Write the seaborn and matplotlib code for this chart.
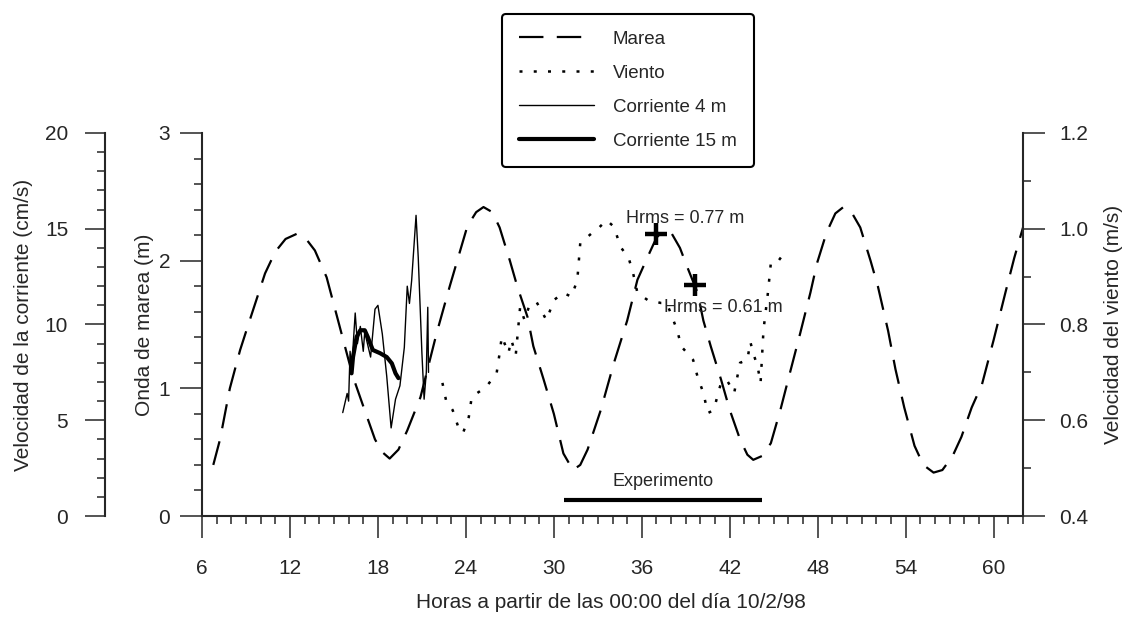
import numpy as np
import matplotlib
matplotlib.use('Agg')
from matplotlib import pyplot as plt
from matplotlib.ticker import MultipleLocator, FormatStrFormatter
import seaborn as sns

# Marea (m), horas desde 00:00 del 10/2/98
tide_t = [6.77, 7.23, 7.9, 8.6, 9.16, 10.3, 11.0, 11.7, 12.46, 13.1, 13.7, 14.5,
          15.4, 16.3, 17.0, 17.8, 18.3, 18.8, 19.4, 20.0, 20.9, 22.0, 22.9, 24.1,
          24.7, 25.2, 25.8, 26.3, 27.0, 27.5, 28.2, 28.6, 29.3, 30.0, 30.65, 31.3,
          31.8, 32.3, 33.2, 34.1, 35.0, 35.7, 36.4, 37.0, 37.5, 38.0, 38.6, 39.1,
          39.8, 40.2, 40.7, 41.4, 42.0, 42.7, 43.2, 43.6, 44.2, 44.8, 45.45, 46.1,
          46.8, 47.5, 47.95, 48.6, 49.2, 49.75, 50.3, 50.9, 51.6, 52.1, 52.8, 53.3,
          53.9, 54.6, 55.2, 55.9, 56.5, 57.2, 57.8, 58.5, 59.2, 60.0, 60.8, 61.4, 62.0]
tide_m = [0.40, 0.60, 1.00, 1.30, 1.50, 1.90, 2.07, 2.17, 2.21, 2.17, 2.08, 1.87,
          1.48, 1.09, 0.86, 0.60, 0.50, 0.45, 0.52, 0.67, 0.93, 1.43, 1.80, 2.27,
          2.38, 2.42, 2.38, 2.26, 2.00, 1.80, 1.56, 1.33, 1.07, 0.80, 0.49, 0.36,
          0.40, 0.52, 0.83, 1.20, 1.53, 1.85, 2.03, 2.18, 2.24, 2.22, 2.10, 1.95,
          1.75, 1.53, 1.33, 1.07, 0.83, 0.60, 0.48, 0.44, 0.47, 0.57, 0.83, 1.12,
          1.43, 1.75, 1.98, 2.22, 2.37, 2.42, 2.38, 2.26, 2.00, 1.80, 1.45, 1.15,
          0.85, 0.55, 0.40, 0.34, 0.36, 0.47, 0.62, 0.85, 1.03, 1.38, 1.75, 2.02, 2.26]

# Viento (m/s)
wind_t = [22.4, 22.65, 23.1, 23.5, 23.8, 24.2, 24.4, 25.4, 26.1, 26.3, 26.45, 26.9,
          27.1, 27.4, 27.7, 28.0, 28.3, 28.8, 29.5, 30.0, 30.65, 31.2, 31.6, 31.8,
          32.6, 32.9, 33.6, 34.1, 34.55, 35.1, 35.4, 35.7, 36.4, 37.3, 37.7, 38.4,
          38.7, 39.5, 39.8, 40.2, 40.5, 40.9, 41.4, 41.8, 42.3, 42.7, 43.2, 43.4,
          43.6, 43.9, 44.1, 44.3, 44.6, 44.8, 45.2, 45.7]
wind_ms = [0.678, 0.641, 0.621, 0.584, 0.573, 0.607, 0.649, 0.670, 0.699, 0.740, 0.775, 0.740,
           0.768, 0.736, 0.837, 0.809, 0.837, 0.848, 0.809, 0.851, 0.866, 0.858, 0.893, 0.970,
           0.991, 0.997, 1.018, 1.004, 0.962, 0.939, 0.908, 0.866, 0.851, 0.845, 0.845, 0.789,
           0.754, 0.726, 0.691, 0.657, 0.615, 0.621, 0.678, 0.684, 0.657, 0.720, 0.726, 0.764,
           0.740, 0.712, 0.678, 0.789, 0.866, 0.928, 0.928, 0.949]

# Corriente a 4 m (cm/s)
cur4_t = [15.6, 15.9, 16.0, 16.1, 16.2, 16.45, 16.6, 16.8, 17.0, 17.1, 17.5, 17.8,
          18.0, 18.3, 18.6, 18.9, 19.2, 19.5, 19.8, 20.0, 20.15, 20.3, 20.6, 20.75,
          21.0, 21.15, 21.3, 21.4, 21.45]
cur4_cms = [5.4, 6.4, 6.0, 8.6, 7.6, 10.6, 9.0, 9.9, 8.6, 9.6, 8.3, 10.8,
            11.0, 9.5, 7.3, 4.6, 6.1, 6.8, 8.8, 12.0, 11.1, 12.3, 15.7, 13.5,
            8.5, 6.1, 7.5, 10.9, 7.5]

# Corriente a 15 m (cm/s)
cur15_t = [16.2, 16.3, 16.55, 16.8, 17.1, 17.3, 17.65, 18.15, 18.6, 18.95, 19.2, 19.4]
cur15_cms = [7.45, 8.3, 9.36, 9.7, 9.7, 9.36, 8.67, 8.5, 8.3, 7.97, 7.45, 7.2]

# Hrms
hrms_t = [37.0, 39.65]
hrms_m = [2.21, 1.81]
hrms_labels = ['Hrms = 0.77 m', 'Hrms = 0.61 m']

# Experimento
exp_start, exp_end = 30.7, 44.2

sns.set_style('ticks')
plt.rcParams['font.family'] = ['Liberation Sans', 'DejaVu Sans']
plt.rcParams['axes.linewidth'] = 1.5

W, H = 1128, 619
fig = plt.figure(figsize=(W / 100, H / 100), dpi=100)
ax = fig.add_axes([202 / W, 1 - 516 / H, 821 / W, 383 / H])
ax_cur = ax.twinx()
ax_wind = ax.twinx()

sns.lineplot(x=tide_t, y=tide_m, ax=ax, color='black', lw=1.6,
             linestyle=(0, (11, 6)), label='Marea', legend=False,
             estimator=None, sort=False)
sns.lineplot(x=wind_t, y=wind_ms, ax=ax_wind, color='black', lw=1.8,
             linestyle=(0, (1.2, 4.5)), label='Viento', legend=False,
             estimator=None, sort=False)
sns.lineplot(x=cur4_t, y=cur4_cms, ax=ax_cur, color='black', lw=1.0,
             label='Corriente 4 m', legend=False, estimator=None, sort=False)
sns.lineplot(x=cur15_t, y=cur15_cms, ax=ax_cur, color='black', lw=3.0,
             label='Corriente 15 m', legend=False, estimator=None, sort=False)

sns.scatterplot(x=hrms_t, y=hrms_m, ax=ax, marker='+', s=230, linewidth=3.2,
                color='black', zorder=5, legend=False)
ax.text(34.9, 2.33, hrms_labels[0], ha='left', va='center', fontsize=13)
ax.text(37.5, 1.63, hrms_labels[1], ha='left', va='center', fontsize=13)

ax.plot([exp_start, exp_end], [0.125, 0.125], color='black', lw=3,
        solid_capstyle='butt')
ax.text((exp_start + exp_end) / 2, 0.27, 'Experimento', ha='center',
        va='center', fontsize=13)

# ejes
ax.set_xlim(6, 62)
ax.set_xticks(range(6, 61, 6))
ax.xaxis.set_minor_locator(MultipleLocator(1))
ax.set_ylim(0, 3)
ax.set_yticks([0, 1, 2, 3])
ax.yaxis.set_minor_locator(MultipleLocator(0.2))

ax_cur.set_ylim(0, 20)
ax_cur.set_yticks([0, 5, 10, 15, 20])
ax_cur.yaxis.set_minor_locator(MultipleLocator(1))
ax_cur.yaxis.tick_left()
ax_cur.yaxis.set_label_position('left')
ax_cur.spines['left'].set_position(('outward', 97 * 0.72))

ax_wind.set_ylim(0.4, 1.2)
ax_wind.set_yticks([0.4, 0.6, 0.8, 1.0, 1.2])
ax_wind.yaxis.set_minor_locator(MultipleLocator(0.1))
ax_wind.yaxis.set_major_formatter(FormatStrFormatter('%.1f'))

for a in (ax, ax_cur, ax_wind):
    for s in ('top', 'right', 'left', 'bottom'):
        a.spines[s].set_visible(False)
ax.spines['left'].set_visible(True)
ax.spines['bottom'].set_visible(True)
ax_cur.spines['left'].set_visible(True)
ax_wind.spines['right'].set_visible(True)

ax.tick_params(axis='x', which='major', length=16, width=1.1, pad=15, labelsize=15)
ax.tick_params(axis='x', which='minor', length=5.5, width=1.1)
ax.tick_params(axis='y', which='major', length=16, width=1.1, pad=7, labelsize=15)
ax.tick_params(axis='y', which='minor', length=5.5, width=1.1)
ax_cur.tick_params(axis='y', which='major', length=14.5, width=1.1, pad=12, labelsize=15)
ax_cur.tick_params(axis='y', which='minor', length=5.5, width=1.1)
ax_wind.tick_params(axis='y', which='major', length=16, width=1.1, pad=10, labelsize=15)
ax_wind.tick_params(axis='y', which='minor', length=5.5, width=1.1)

ax.set_xlabel('Horas a partir de las 00:00 del día 10/2/98', fontsize=15)
ax.xaxis.set_label_coords(0.498, -0.2)
ax.set_ylabel('Onda de marea (m)', fontsize=15)
ax.yaxis.set_label_coords(-0.0585, 0.5)
ax_cur.set_ylabel('Velocidad de la corriente (cm/s)', fontsize=15)
ax_cur.yaxis.set_label_coords(-0.206, 0.5)
ax_wind.set_ylabel('Velocidad del viento (m/s)', fontsize=15)
ax_wind.yaxis.set_label_coords(1.099, 0.5)

handles, labels = [], []
for a in (ax, ax_wind, ax_cur):
    h, l = a.get_legend_handles_labels()
    handles += h
    labels += l
leg = fig.legend(handles, labels, loc='upper center',
                 bbox_to_anchor=(628 / W, 1 - 14 / H), frameon=True,
                 fancybox=True, edgecolor='black', facecolor='white',
                 framealpha=1, fontsize=13.5, handlelength=4.0,
                 handletextpad=1.0, labelspacing=0.9, borderpad=0.9,
                 borderaxespad=0)
leg.get_frame().set_linewidth(1.5)

fig.savefig('out.png', dpi=100)
